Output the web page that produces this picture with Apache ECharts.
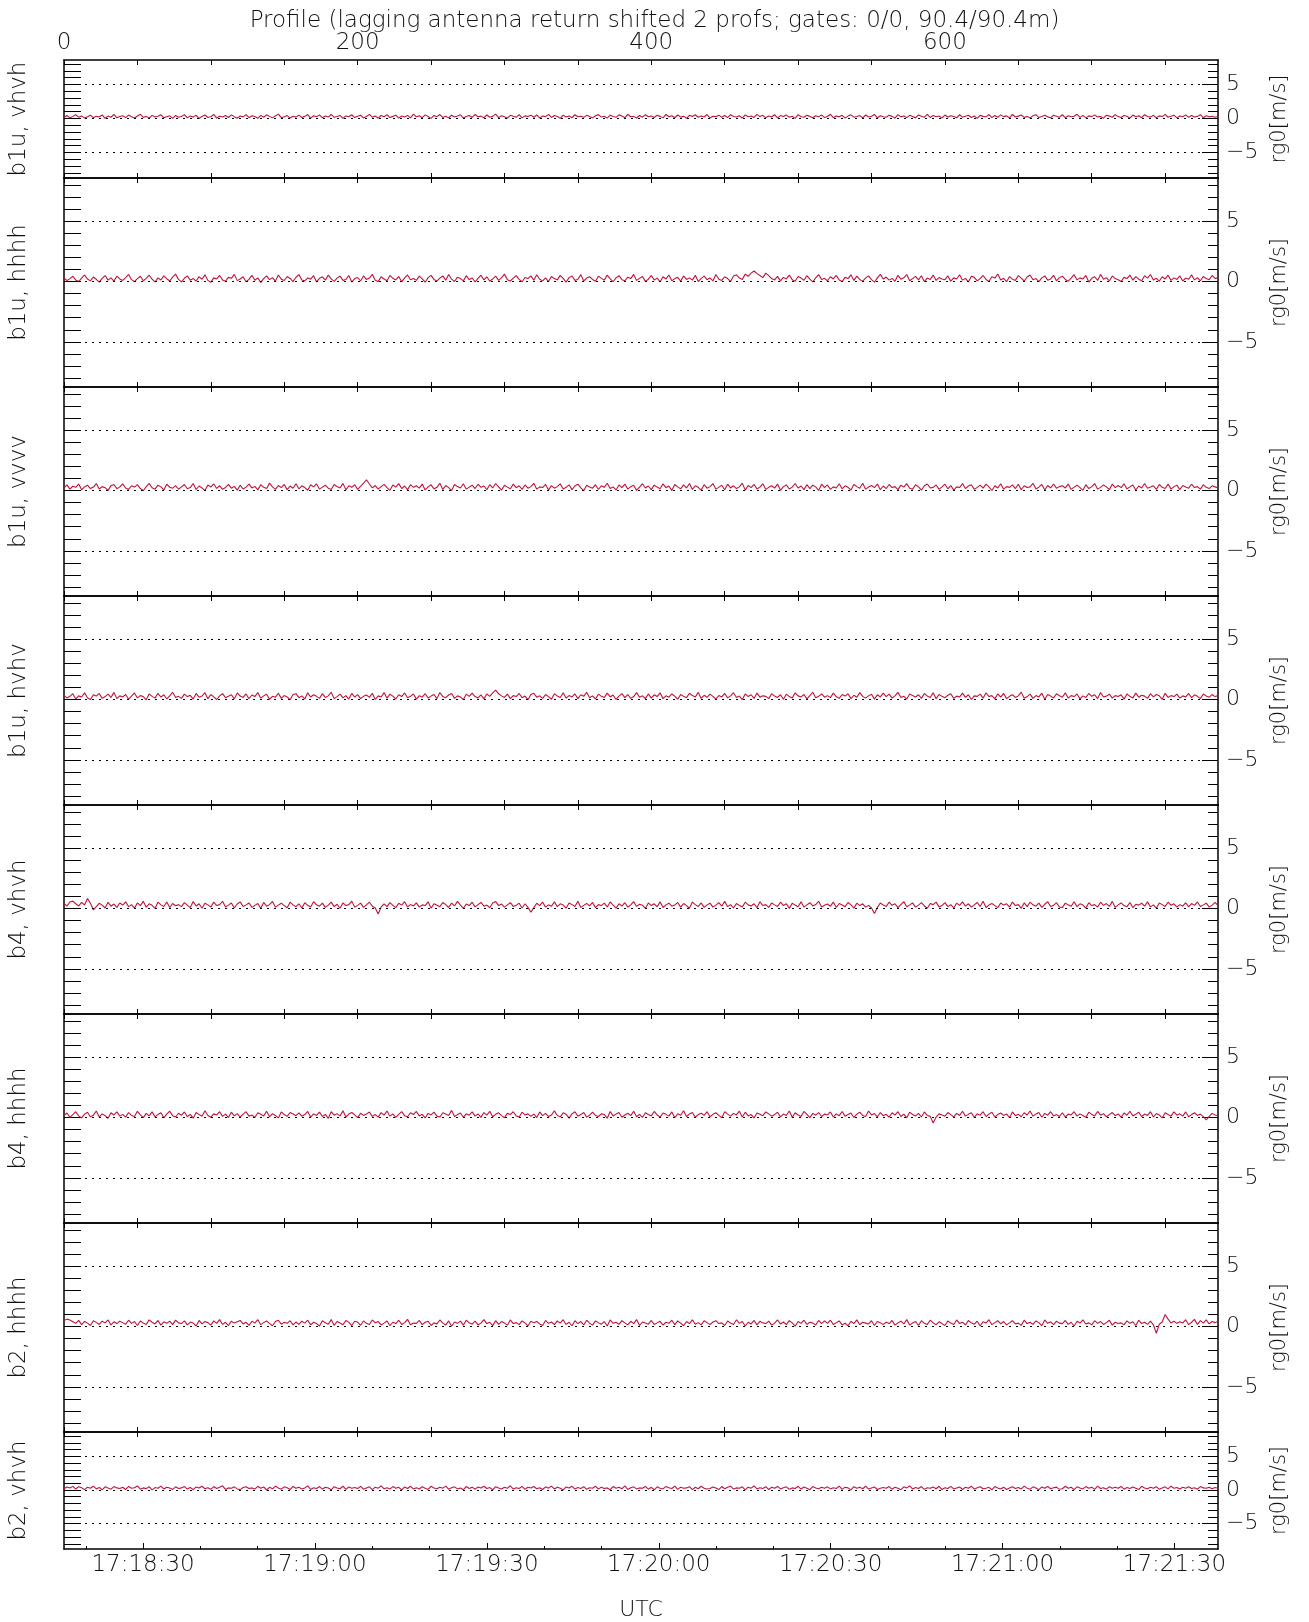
<!DOCTYPE html>
<html>
<head>
<meta charset="utf-8">
<title>Profile rg0</title>
<script src="https://cdn.jsdelivr.net/npm/echarts@6/dist/echarts.min.js"></script>
<style>
  html, body { margin: 0; padding: 0; background: #fff; }
  #chart { width: 1309px; height: 1622px; }
</style>
</head>
<body>
<div id="chart"></div>
<script>
// Panel labels (beam, polarisation product), top to bottom
const panelNames = ['b1u, vhvh', 'b1u, hhhh', 'b1u, vvvv', 'b1u, hvhv',
                    'b4, vhvh', 'b4, hhhh', 'b2, hhhh', 'b2, vhvh'];

// rg0 velocity per panel, in cm/s, one value every 2nd profile (profiles 0, 2, 4, ... 786)
const b1uVhvh = [
  14,44,8,31,55,19,38,6,27,49,12,33,22,52,3,35,18,60,10,29,
  41,13,50,24,7,37,62,16,31,5,46,21,34,54,11,26,39,2,45,17,
  30,57,9,38,20,47,0,31,51,14,25,61,6,34,22,44,15,53,27,4,
  36,24,56,11,40,29,3,46,18,54,31,9,38,64,12,27,43,6,33,20,
  50,15,31,58,5,40,24,53,10,36,21,59,17,28,45,1,38,26,55,13,
  33,48,8,29,61,19,38,4,44,25,57,14,31,50,5,36,22,46,10,63,
  24,41,12,53,30,2,45,27,58,16,33,9,48,22,38,55,7,29,43,15,
  59,26,35,10,51,19,31,64,13,40,25,4,47,33,17,56,9,38,28,49,
  19,52,6,36,27,61,15,43,30,2,50,22,38,11,55,25,33,17,46,29,
  9,40,57,21,33,5,48,28,17,53,37,12,62,26,31,7,44,19,56,25,
  36,14,47,31,9,59,25,41,11,51,20,34,3,46,28,55,18,38,22,58,
  7,33,27,49,17,43,13,56,30,21,40,5,53,25,36,15,61,28,46,10,
  38,22,55,9,43,29,50,18,34,2,57,26,19,48,31,11,40,24,53,14,
  30,62,12,38,24,46,6,35,54,19,29,43,10,51,22,33,59,8,40,26,
  18,49,31,4,56,24,38,13,46,28,9,53,33,19,60,15,43,26,36,6,
  51,21,40,29,10,55,19,33,48,14,38,2,46,31,23,58,12,43,17,53,
  27,38,8,59,22,35,51,16,31,6,43,56,14,29,47,24,10,49,33,19,
  55,12,40,25,33,62,17,46,9,38,27,53,21,31,4,49,35,18,57,28,
  14,43,33,5,51,25,40,12,55,30,20,47,10,38,28,60,18,33,49,9,
  36,26,53,16,43,21,31,56,11,40,24,33,19,29
];
const b1uHhhh = [
  33,8,25,44,14,0,28,55,21,6,38,19,-5,27,50,12,31,4,45,22,
  10,33,59,16,-1,25,44,7,27,53,20,-3,31,13,48,24,5,37,62,18,
  -2,28,47,12,25,5,41,19,56,10,-6,31,22,51,14,3,35,27,60,8,
  22,40,-1,18,52,11,31,-7,25,47,16,33,4,55,20,9,42,26,0,36,
  58,14,6,31,20,49,-3,27,40,12,54,22,2,29,45,10,18,51,-4,25,
  34,5,47,18,29,61,12,0,40,22,7,51,27,14,43,-2,31,55,16,25,
  10,45,22,-5,33,52,18,4,29,47,12,59,20,1,37,25,6,49,16,31,
  -3,27,53,14,40,3,22,45,10,31,62,16,5,29,50,18,-1,34,25,47,
  12,57,20,6,31,1,42,25,14,52,27,-4,33,47,10,20,58,5,29,40,
  18,3,45,27,12,54,22,-1,31,49,16,7,37,25,60,10,27,43,2,20,
  51,14,29,-2,40,22,55,7,25,35,4,47,18,31,12,53,0,27,45,16,
  31,5,59,20,10,40,25,1,47,56,29,18,62,44,70,88,66,51,33,70,
  50,25,14,43,6,35,22,54,16,3,42,29,11,49,20,-3,31,58,18,27,
  7,40,22,51,14,0,35,25,56,10,45,18,4,29,48,16,-5,31,60,22,
  38,12,27,2,52,20,31,59,7,25,43,14,49,-1,29,18,54,10,33,22,
  16,47,4,31,22,57,12,27,-3,45,35,6,25,51,18,1,40,29,63,14,
  27,-1,42,20,10,50,29,5,38,55,16,25,0,31,47,12,22,52,7,33,
  45,18,3,29,57,14,31,22,51,-4,27,40,10,60,20,33,5,47,25,16,
  1,35,25,54,12,42,20,7,49,29,59,14,27,3,40,22,53,10,31,18,
  47,5,29,20,56,14,33,7,42,25,16,51,27,31
];
const b1uVvvv = [
  20,47,12,36,27,54,6,31,45,17,29,58,13,33,24,2,41,51,16,31,
  56,22,10,40,29,49,17,-1,33,60,24,12,45,31,5,53,27,20,42,11,
  31,51,15,25,59,9,38,22,0,47,29,55,18,40,11,26,52,20,35,4,
  45,13,29,54,22,35,6,49,27,17,62,31,10,42,25,51,8,38,20,57,
  15,40,25,3,48,31,56,12,29,45,20,9,51,33,22,60,6,40,27,49,
  10,35,62,90,55,22,42,13,33,52,25,2,47,29,58,17,38,8,49,27,
  40,20,54,5,31,48,14,27,61,10,42,25,0,51,33,22,57,12,29,45,
  17,53,27,38,7,49,22,59,31,3,45,29,15,54,24,40,10,47,20,33,
  60,12,31,25,51,4,42,20,33,56,14,27,48,8,38,53,22,-1,45,29,
  20,49,9,40,27,61,17,31,5,47,25,54,12,33,44,2,29,57,22,38,
  8,45,29,16,56,24,38,0,51,31,14,47,22,59,10,40,27,4,49,20,
  33,58,12,27,45,7,53,22,40,17,31,62,4,42,25,51,14,29,56,10,
  27,40,20,54,2,33,47,13,29,59,22,38,8,49,17,45,31,1,53,25,
  47,10,31,22,57,15,40,27,5,51,33,20,61,12,29,42,25,54,7,38,
  17,51,25,33,8,45,29,58,20,12,49,31,3,40,55,22,27,47,10,31,
  53,15,42,4,31,25,59,17,38,49,10,27,45,20,54,31,1,40,22,57,
  12,33,27,47,17,53,7,40,25,31,61,14,29,51,5,42,22,55,20,33,
  40,22,54,10,29,45,25,2,49,17,33,58,12,27,47,31,8,53,25,42,
  25,57,14,31,47,5,38,22,59,20,29,40,10,51,27,17,54,12,33,45,
  8,42,29,20,53,25,33,12,49,27,17,40,31,22
];
const b1uHvhv = [
  35,14,27,49,5,31,22,56,16,0,40,29,51,10,25,45,18,60,8,31,
  22,42,3,29,55,14,33,25,-2,47,27,12,53,20,40,5,31,61,18,27,
  10,45,25,35,4,51,20,29,57,8,42,22,1,31,49,16,27,40,6,55,
  29,18,47,7,38,25,59,12,31,45,3,27,20,53,10,33,22,-1,42,49,
  16,31,5,56,22,40,27,10,49,18,31,61,8,25,45,14,33,4,51,20,
  42,8,27,38,18,53,1,31,22,58,12,45,29,5,40,25,55,16,27,47,
  4,33,20,49,14,29,42,8,59,25,16,38,51,10,31,22,0,45,27,54,
  25,14,40,6,47,27,55,78,48,31,18,45,8,33,25,51,16,29,-1,42,
  53,20,31,10,42,25,3,49,29,18,57,12,33,22,47,8,40,27,61,16,
  31,5,45,27,18,54,22,38,1,29,49,16,42,10,25,58,20,31,8,47,
  12,40,25,56,8,31,20,47,29,3,42,27,16,53,33,22,60,10,36,18,
  45,27,5,33,22,51,14,31,57,18,29,0,47,25,40,10,54,20,31,27,
  8,49,29,18,40,3,45,25,14,56,31,22,42,6,33,61,16,27,47,20,
  33,16,54,25,10,42,29,49,8,36,20,58,27,12,31,45,4,40,22,53,
  25,45,12,31,60,18,27,5,47,33,22,40,10,51,29,18,56,8,42,27,
  16,36,49,10,29,22,54,18,40,1,31,27,45,12,57,25,33,6,47,20,
  51,8,27,40,18,31,62,12,25,45,10,33,22,53,3,42,29,14,49,31,
  20,56,12,33,25,47,5,31,18,51,27,40,8,58,22,29,45,12,33,25,
  40,4,47,27,14,54,20,36,29,10,49,22,42,31,2,53,18,33,25,45,
  12,31,22,51,16,40,27,8,47,29,20,42,25,33
];
const b4Vhvh = [
  45,20,55,62,40,22,52,30,83,45,-10,16,44,29,5,52,20,38,10,47,
  29,56,16,33,4,47,25,60,12,40,27,1,53,31,18,55,9,42,24,33,
  16,49,29,8,58,22,40,3,45,31,12,54,25,33,61,14,29,47,5,38,
  56,18,31,47,10,27,43,0,51,20,33,59,12,29,45,25,7,53,31,16,
  40,5,49,27,14,57,31,20,45,10,29,54,16,36,3,47,25,33,62,12,
  27,45,10,31,53,20,5,-45,12,40,16,49,27,8,44,29,57,14,33,22,
  47,12,31,25,56,4,40,27,16,51,33,9,45,22,60,29,1,38,25,53,
  14,33,51,20,29,7,47,58,25,38,12,31,49,18,27,45,5,40,10,-30,
  8,44,25,53,12,31,20,56,16,40,29,3,47,33,18,61,10,27,43,22,
  51,8,33,25,45,14,55,29,4,40,20,49,12,31,58,18,36,27,1,47,
  25,40,16,56,9,31,45,20,29,51,12,42,25,3,54,33,18,47,10,31,
  45,12,29,49,20,60,16,33,5,42,27,14,53,31,22,40,8,57,25,33,
  10,47,31,18,53,25,40,2,45,29,16,56,12,31,49,22,33,61,14,27,
  38,20,54,9,42,29,16,51,31,4,45,25,40,12,27,5,-40,10,47,29,
  18,53,27,40,8,33,58,16,31,47,12,29,49,22,3,42,33,54,14,25,
  49,16,33,5,45,27,56,20,40,12,31,51,18,61,9,29,42,25,8,47,
  29,40,12,54,25,33,2,47,16,53,31,20,45,10,36,58,18,27,49,14,
  8,45,31,20,57,16,40,29,4,49,25,33,12,53,27,42,18,60,10,31,
  47,25,16,51,9,36,29,45,20,56,14,31,3,47,33,18,53,27,40,12,
  33,20,49,14,42,27,55,18,31,45,12,29,51,25
];
const b4Hhhh = [
  16,38,2,25,49,14,-3,29,45,7,20,55,5,31,16,-6,40,22,47,12,
  27,4,42,18,9,52,22,0,35,14,48,6,25,40,-2,29,53,16,5,36,
  20,47,7,27,-5,42,25,12,57,18,3,31,22,49,10,29,0,45,14,33,
  5,29,49,12,22,1,40,27,14,53,7,33,18,-3,47,25,10,42,29,16,
  40,12,25,51,3,31,18,45,9,27,-6,49,20,33,14,56,5,29,42,22,
  0,36,18,29,47,10,25,4,42,20,55,12,31,1,27,49,16,7,40,25,
  51,14,27,-3,35,22,45,12,5,40,29,18,60,9,25,38,3,31,20,47,
  12,31,2,42,20,53,7,27,40,16,-1,35,25,49,14,5,45,22,31,10,
  29,0,47,16,35,9,22,56,18,6,40,27,-4,31,49,12,25,42,4,20,
  45,18,9,31,25,-5,51,14,29,42,3,22,36,16,53,7,27,1,40,25,
  14,51,22,4,38,27,12,47,-1,31,20,57,9,29,42,3,25,36,18,49,
  7,27,40,18,-1,49,29,12,35,22,53,5,45,14,25,-3,38,27,16,47,
  31,12,25,45,6,29,18,55,3,40,22,10,51,27,0,35,20,42,9,29,
  22,47,5,31,16,51,12,25,38,1,29,45,18,9,55,22,33,7,42,16,
  27,3,40,20,49,9,29,-2,45,25,14,35,5,47,18,10,-45,4,31,22,
  12,42,25,6,35,18,53,12,27,40,1,31,20,49,9,29,45,5,25,38,
  18,31,-1,47,16,27,7,40,22,55,12,29,42,3,35,20,49,14,25,9,
  40,5,29,22,49,12,31,18,2,45,27,14,51,20,33,7,25,42,16,31,
  3,38,20,53,14,27,45,9,29,18,49,5,33,22,-3,40,25,12,47,20,
  31,12,47,7,25,40,18,29,8,-20,10,35,22,16
];
const b2Hhhh = [
  50,62,55,40,27,52,16,43,29,9,49,35,18,45,31,55,14,40,25,45,
  33,20,53,27,42,9,47,29,18,56,36,22,51,12,40,27,45,16,54,31,
  25,47,14,38,29,5,51,22,42,33,12,47,27,58,18,36,9,45,29,40,
  51,22,36,10,44,29,57,16,33,47,25,7,42,53,20,35,27,49,14,38,
  18,45,29,53,14,36,25,5,49,31,20,58,10,42,29,16,51,35,9,44,
  38,11,47,27,18,55,31,42,14,29,47,7,36,25,53,18,33,60,16,29,
  27,51,16,36,44,9,31,22,55,29,14,47,3,38,27,45,12,53,31,20,
  45,14,29,58,25,36,8,49,18,42,29,12,55,25,33,16,47,31,5,44,
  31,42,22,9,51,27,38,16,47,29,57,18,36,7,49,25,42,14,53,29,
  12,47,33,20,42,5,55,27,36,18,49,31,14,44,25,58,9,38,29,20,
  51,18,31,44,12,36,27,53,16,47,29,7,42,25,56,20,33,14,49,33,
  16,38,49,25,31,9,47,29,18,57,27,42,5,36,22,51,14,44,31,25,
  45,12,29,55,22,38,16,49,31,3,42,27,53,18,36,29,14,51,25,47,
  27,53,18,33,47,14,29,7,44,25,56,16,36,29,22,49,9,42,31,18,
  36,25,51,12,31,45,22,58,14,29,42,9,49,27,18,53,31,16,40,25,
  9,47,29,18,55,25,36,14,51,31,20,45,5,40,29,57,16,33,49,22,
  42,14,31,49,22,29,10,53,25,36,18,47,33,7,55,27,40,16,45,29,
  25,51,18,36,5,44,29,56,22,31,14,49,27,42,18,33,53,12,36,25,
  31,16,47,27,40,9,53,25,36,18,45,15,-55,20,38,100,62,30,44,27,
  40,29,57,16,36,60,18,49,29,56,22,42,33,45
];
const b2Vhvh = [
  18,45,29,54,14,49,33,5,42,25,56,16,38,3,47,29,12,51,31,22,
  40,7,52,27,33,60,12,31,20,49,1,36,25,57,16,42,29,9,47,22,
  31,51,14,38,4,45,29,56,18,33,10,51,22,42,62,9,31,27,47,16,
  5,36,49,22,31,14,55,25,45,0,40,18,58,29,12,47,33,7,53,25,
  42,16,31,60,7,33,22,51,14,40,29,3,49,31,18,56,10,45,25,36,
  22,53,12,31,47,5,42,27,60,18,33,14,51,25,40,1,45,22,55,16,
  33,14,49,25,8,55,31,18,40,27,58,12,33,47,16,31,5,51,22,42,
  12,45,29,56,22,36,3,49,31,16,42,25,63,14,33,22,53,9,40,29,
  51,18,33,7,47,27,58,16,40,25,1,45,31,55,14,36,22,49,10,33,
  27,56,14,42,22,31,5,51,25,40,18,60,7,33,47,16,31,25,53,12,
  40,3,47,27,16,53,33,22,58,9,42,25,31,49,5,40,18,55,27,14,
  22,45,31,7,51,18,40,56,14,31,25,47,3,42,27,60,16,33,22,49,
  7,40,25,53,16,33,47,10,31,22,55,14,45,27,4,51,31,18,40,25,
  47,16,33,22,58,10,42,31,1,49,25,40,18,56,14,31,45,7,27,36,
  25,51,12,40,27,5,47,31,60,16,36,22,51,9,33,25,45,18,55,7,
  33,22,53,16,31,45,7,42,25,56,12,33,49,18,27,40,3,51,31,16,
  42,7,31,49,22,36,16,58,27,12,47,31,5,45,25,53,18,33,42,10,
  18,55,25,40,5,47,31,16,51,27,42,9,57,22,33,12,49,27,40,25,
  53,12,36,22,45,27,7,55,31,18,40,25,49,10,31,47,16,56,25,36,
  16,40,27,47,22,33,12,51,31,25,42,18,36,27
];
const panelSeries = [b1uVhvh, b1uHhhh, b1uVvvv, b1uHvhv, b4Vhvh, b4Hhhh, b2Hhhh, b2Vhvh];

// Axis ticks and labels
const profileTickValues  = [0,50,100,150,200,250,300,350,400,450,500,550,600,650,700,750];
const profileLabelValues = [0, 200, 400, 600];
const velocityTickValues = [-8,-7,-6,-5,-4,-3,-2,-1,0,1,2,3,4,5,6,7,8];
const velocityLabelValues = [-5, 0, 5];
// time axis in seconds after 17:18:00 UTC
const timeTickValues  = [20,30,40,50,60,70,80,90,100,110,120,130,140,150,160,170,180,190,200,210];
const timeLabelValues = [30, 60, 90, 120, 150, 180, 210];

const PROFILE_STEP = 2;
const PROFILE_MAX = 786;
const TIME_MIN = 16.2, TIME_MAX = 217.6;
const V_MIN = -8.75, V_MAX = 8.6;

// panel placement: [top, height] in px
const panelBoxes = [[60,118],[178,209],[387,209],[596,209],[805,209],[1014,209],[1223,209],[1432,118]];

const FONT = 'DejaVu Sans';
const TXT = '#111';
const AX = '#000';
const lineAx = { show: true, onZero: false, lineStyle: { color: AX, width: 1.5 } };
const txt = (size) => ({ color: TXT, fontFamily: FONT, fontSize: size, fontWeight: 200 });

function hms(sec) {
  const t = 17 * 3600 + 18 * 60 + Math.round(sec);
  const h = Math.floor(t / 3600), m = Math.floor((t % 3600) / 60), s = t % 60;
  const p = (n) => String(n).padStart(2, '0');
  return p(h) + ':' + p(m) + ':' + p(s);
}

const grids = [], xAxes = [], yAxes = [], series = [];
const last = panelNames.length - 1;

panelNames.forEach((name, i) => {
  const [top, height] = panelBoxes[i];
  grids.push({ left: 64, right: 91, top: top, height: height });

  // profile axis along the top of the panel
  const xTop = xAxes.length;
  xAxes.push({
    type: 'value', gridIndex: i, position: 'top', min: 0, max: PROFILE_MAX,
    axisLine: lineAx,
    axisTick: { show: true, inside: true, length: 5, customValues: profileTickValues, lineStyle: { color: AX } },
    axisLabel: Object.assign({ show: i === 0, customValues: profileLabelValues, margin: 5 }, txt(23)),
    splitLine: { show: false }
  });

  if (i < last) {
    xAxes.push({
      type: 'value', gridIndex: i, position: 'bottom', min: 0, max: PROFILE_MAX,
      axisLine: lineAx,
      axisTick: { show: true, inside: true, length: 5, customValues: profileTickValues, lineStyle: { color: AX } },
      axisLabel: { show: false },
      splitLine: { show: false }
    });
  } else {
    // UTC time axis: minor ticks every 10 s, labelled ticks every 30 s
    xAxes.push({
      type: 'value', gridIndex: i, position: 'bottom', min: TIME_MIN, max: TIME_MAX,
      axisLine: lineAx,
      axisTick: { show: true, inside: true, length: 3, customValues: timeTickValues, lineStyle: { color: AX } },
      axisLabel: { show: false },
      splitLine: { show: false }
    });
    xAxes.push({
      type: 'value', gridIndex: i, position: 'bottom', min: TIME_MIN, max: TIME_MAX,
      axisLine: { show: false, onZero: false },
      axisTick: { show: true, inside: true, length: 6, customValues: timeLabelValues, lineStyle: { color: AX } },
      axisLabel: Object.assign({ show: true, customValues: timeLabelValues, margin: 5, formatter: hms }, txt(23)),
      splitLine: { show: false },
      name: 'UTC', nameLocation: 'middle', nameGap: 50, nameTextStyle: txt(22)
    });
  }

  const yLeft = yAxes.length;
  yAxes.push({
    type: 'value', gridIndex: i, position: 'left', min: V_MIN, max: V_MAX,
    axisLine: lineAx,
    axisTick: { show: true, inside: true, length: 17, customValues: velocityTickValues, lineStyle: { color: AX } },
    axisLabel: { show: false },
    splitLine: { show: false },
    name: name, nameLocation: 'middle', nameRotate: 90, nameGap: 33, nameTextStyle: txt(23)
  });
  yAxes.push({
    type: 'value', gridIndex: i, position: 'right', min: V_MIN, max: V_MAX,
    axisLine: lineAx,
    axisTick: { show: true, inside: true, length: 10, customValues: velocityTickValues, lineStyle: { color: AX } },
    axisLabel: Object.assign({ show: true, customValues: velocityLabelValues, margin: 8,
      formatter: (v) => (v < 0 ? '\u2212' + Math.abs(v) : String(v)) }, txt(22)),
    splitLine: { show: false },
    name: 'rg0[m/s]', nameLocation: 'middle', nameRotate: 90, nameGap: 45, nameTextStyle: txt(21)
  });
  yAxes.push({
    type: 'value', gridIndex: i, position: 'right', min: V_MIN, max: V_MAX,
    axisLine: { show: false, onZero: false },
    axisTick: { show: true, inside: true, length: 16, customValues: velocityLabelValues, lineStyle: { color: AX } },
    axisLabel: { show: false },
    splitLine: { show: false }
  });

  series.push({
    type: 'line', name: name, xAxisIndex: xTop, yAxisIndex: yLeft,
    data: panelSeries[i].map((v, k) => [k * PROFILE_STEP, v / 100]),
    showSymbol: false, symbol: 'none', clip: true,
    lineStyle: { color: '#c0143c', width: 1.1 },
    markLine: {
      silent: true, symbol: 'none', label: { show: false },
      lineStyle: { color: AX, type: [2, 5], width: 1 },
      data: velocityLabelValues.map((v) => ({ yAxis: v }))
    }
  });
});

const chart = echarts.init(document.getElementById('chart'), null, { renderer: 'canvas' });
chart.setOption({
  backgroundColor: '#fff',
  animation: false,
  title: {
    text: 'Profile (lagging antenna return shifted 2 profs; gates: 0/0, 90.4/90.4m)',
    left: 'center', top: 5,
    textStyle: txt(23)
  },
  grid: grids,
  xAxis: xAxes,
  yAxis: yAxes,
  series: series
});
</script>
</body>
</html>
